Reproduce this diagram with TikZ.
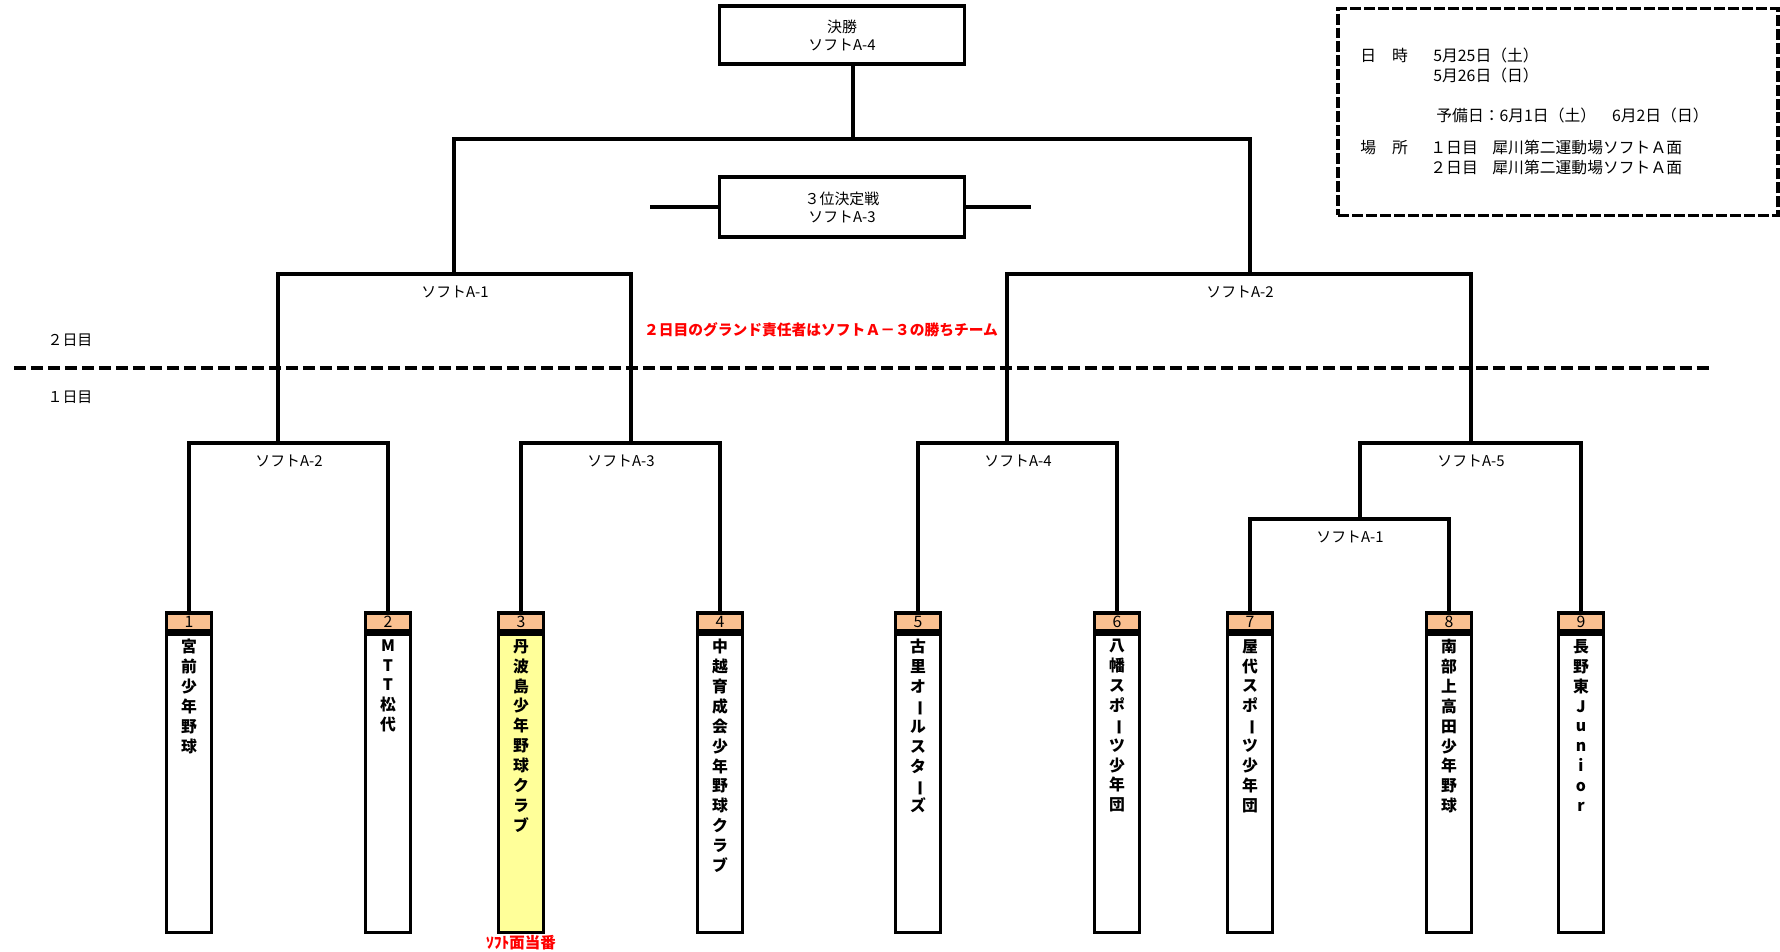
\documentclass[tikz,border=0pt]{standalone}
\usepackage{fontspec}
\setmainfont{Noto Sans CJK JP}
\usetikzlibrary{positioning}
\definecolor{headpeach}{HTML}{FAC090}
\definecolor{dutyyellow}{HTML}{FFFF99}
\definecolor{notered}{HTML}{FF0000}
\newcommand{\vcho}{\rotatebox[origin=c]{-90}{ー}}
\tikzset{
  bracketline/.style={line width=1.8pt},
  dayline/.style={line width=2pt, dash pattern=on 0.24cm off 0.1cm},
  matchbox/.style={draw, line width=1.8pt, minimum width=4.9cm, minimum height=1.16cm, inner sep=0pt, align=center, font=\fontsize{8.5}{10.2}\selectfont},
  infobox/.style={draw, line width=2pt, dash pattern=on 0.22cm off 0.06cm, minimum width=8.8cm, minimum height=4.14cm, inner sep=0pt},
  infotext/.style={anchor=west, inner sep=0pt, font=\fontsize{9}{11}\selectfont},
  daytext/.style={inner sep=0pt, font=\fontsize{8.5}{10}\selectfont},
  roundlbl/.style={inner sep=0pt, font=\fontsize{8.5}{10}\selectfont},
  note/.style={inner sep=0pt, text=notered, font=\bfseries\fontsize{8.4}{10}\selectfont},
  teamhead/.style={draw, line width=1.8pt, fill=headpeach, minimum width=0.9cm, minimum height=0.36cm, inner sep=0pt, font=\fontsize{9}{9}\selectfont},
  teambody/.style={draw, line width=1.8pt, minimum width=0.9cm, minimum height=5.96cm, inner sep=0pt},
  teamname/.style={inner sep=0pt, align=center, font=\bfseries\fontsize{9}{11.3}\selectfont},
}

\begin{document}
\begin{tikzpicture}[x=0.02cm, y=-0.02cm]
\useasboundingbox (0,0) rectangle (1780,952);

\node[matchbox] (final) at (842,35) {決勝\\ソフトA-4};
\node[matchbox, minimum height=1.2cm] (third) at (842,207) {３位決定戦\\ソフトA-3};

\node[infobox] (info) at (1558,112) {};
\node[infotext] (datelbl) at (1360,55) {日　時};
\node[infotext] (date1) at (1433,55) {5月25日（土）};
\node[infotext] (date2) at (1433,75) {5月26日（日）};
\node[infotext] (spare) at (1436,115) {予備日：6月1日（土）　6月2日（日）};
\node[infotext] (placelbl) at (1360,148) {場　所};
\node[infotext] (day1lbl) at (1430,148) {１日目};
\node[infotext] (place1) at (1492,148) {犀川第二運動場ソフトＡ面};
\node[infotext] (day2lbl) at (1430,168) {２日目};
\node[infotext] (place2) at (1492,168) {犀川第二運動場ソフトＡ面};

\node[daytext] (day2) at (70,340) {２日目};
\node[daytext] (day1) at (70,397) {１日目};
\node[note] (notice) at (821,330) {２日目のグランド責任者はソフトＡ－３の勝ちチーム};

\node[roundlbl] (lbl1) at (455,292) {ソフトA-1};
\node[roundlbl] (lbl2) at (1240,292) {ソフトA-2};
\node[roundlbl] (lbl3) at (289,461) {ソフトA-2};
\node[roundlbl] (lbl4) at (621,461) {ソフトA-3};
\node[roundlbl] (lbl5) at (1018,461) {ソフトA-4};
\node[roundlbl] (lbl6) at (1471,461) {ソフトA-5};
\node[roundlbl] (lbl7) at (1350,537) {ソフトA-1};

\node[teamhead] (h1) at (189,622) {1};
\node[teambody, below=0pt of h1] (t1) {};
\node[teamname, below=0.13cm of h1] (n1) {宮\\前\\少\\年\\野\\球};
\node[teamhead] (h2) at (388,622) {2};
\node[teambody, below=0pt of h2] (t2) {};
\node[teamname, below=0.13cm of h2] (n2) {M\\T\\T\\松\\代};
\node[teamhead] (h3) at (521,622) {3};
\node[teambody, fill=dutyyellow, below=0pt of h3] (t3) {};
\node[teamname, below=0.13cm of h3] (n3) {丹\\波\\島\\少\\年\\野\\球\\ク\\ラ\\ブ};
\node[teamhead] (h4) at (720,622) {4};
\node[teambody, below=0pt of h4] (t4) {};
\node[teamname, below=0.13cm of h4] (n4) {中\\越\\育\\成\\会\\少\\年\\野\\球\\ク\\ラ\\ブ};
\node[teamhead] (h5) at (918,622) {5};
\node[teambody, below=0pt of h5] (t5) {};
\node[teamname, below=0.13cm of h5] (n5) {古\\里\\オ\\\vcho\\ル\\ス\\タ\\\vcho\\ズ};
\node[teamhead] (h6) at (1117,622) {6};
\node[teambody, below=0pt of h6] (t6) {};
\node[teamname, below=0.13cm of h6] (n6) {八\\幡\\ス\\ポ\\\vcho\\ツ\\少\\年\\団};
\node[teamhead] (h7) at (1250,622) {7};
\node[teambody, below=0pt of h7] (t7) {};
\node[teamname, below=0.13cm of h7] (n7) {屋\\代\\ス\\ポ\\\vcho\\ツ\\少\\年\\団};
\node[teamhead] (h8) at (1449,622) {8};
\node[teambody, below=0pt of h8] (t8) {};
\node[teamname, below=0.13cm of h8] (n8) {南\\部\\上\\高\\田\\少\\年\\野\\球};
\node[teamhead] (h9) at (1581,622) {9};
\node[teambody, below=0pt of h9] (t9) {};
\node[teamname, below=0.13cm of h9] (n9) {長\\野\\東\\J\\u\\n\\i\\o\\r};
\node[note, font=\bfseries\fontsize{8.8}{10}\selectfont, below=0.03cm of t3] (duty) {ｿﾌﾄ面当番};

\coordinate (f) at (853,139);
\coordinate (s1) at (454,274);
\coordinate (s2) at (1250,274);
\coordinate (q1) at (278,443);
\coordinate (q2) at (631,443);
\coordinate (q3) at (1007,443);
\coordinate (q4) at (1471,443);
\coordinate (r1) at (1360,519);
\coordinate (tl) at (650,207);
\coordinate (tr) at (1031,207);
\coordinate (dl) at (14,368);
\coordinate (dr) at (1712,368);

\draw[bracketline] (final.south -| f) -- (f);
\draw[bracketline] (s1) |- (f) -| (s2);
\draw[bracketline] (q1) |- (s1) -| (q2);
\draw[bracketline] (q3) |- (s2) -| (q4);
\draw[bracketline] (h1.north) |- (q1) -| (h2.north);
\draw[bracketline] (h3.north) |- (q2) -| (h4.north);
\draw[bracketline] (h5.north) |- (q3) -| (h6.north);
\draw[bracketline] (h7.north) |- (r1) -| (h8.north);
\draw[bracketline] (r1) |- (q4) -| (h9.north);
\draw[bracketline] (third.west) -- (tl);
\draw[bracketline] (third.east) -- (tr);
\draw[dayline] (dl) -- (dr);

\end{tikzpicture}
\end{document}
